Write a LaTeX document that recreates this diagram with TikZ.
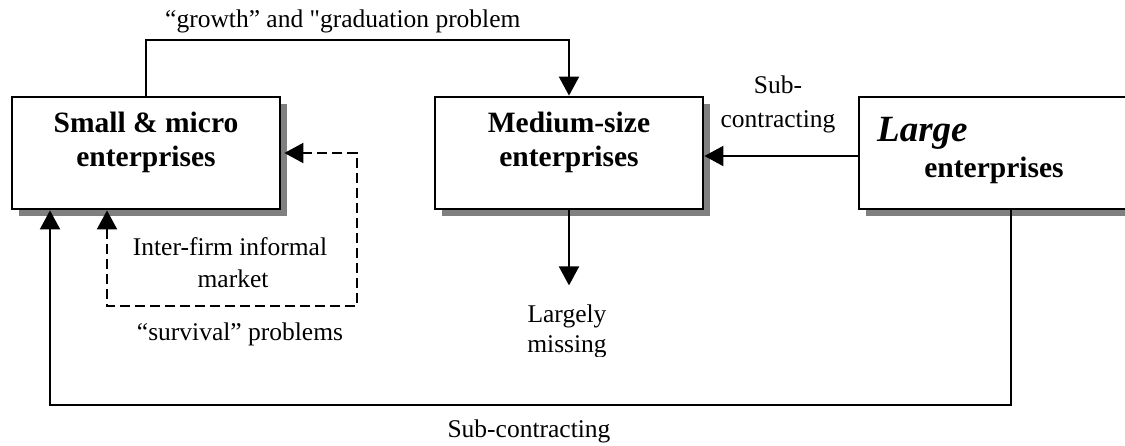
\documentclass[tikz,border=0pt]{standalone}
\usepackage{fontspec}
\setmainfont{Liberation Serif}[Ligatures=TeXOff]
\usetikzlibrary{arrows.meta,shadows,calc}
\begin{document}
\begin{tikzpicture}[x=1pt,y=-1pt,
  box/.style={draw=black, line width=2.8pt, fill=white, minimum width=268pt, minimum height=112pt, inner sep=0pt,
    general shadow={fill=gray, shadow xshift=6.5pt, shadow yshift=-6.5pt}},
  conn/.style={line width=2pt, -{Triangle[length=19pt,width=20pt]}},
  dconn/.style={line width=2pt, dash pattern=on 10pt off 5pt, {Triangle[length=19pt,width=20pt]}-{Triangle[length=19pt,width=20pt]}},
  lab/.style={font=\fontsize{25.5}{31}\selectfont, inner sep=0pt, anchor=base},
  btxt/.style={font=\fontsize{29.5}{35}\selectfont\bfseries, inner sep=0pt, anchor=base}]
\useasboundingbox (0,0) rectangle (1125,445);

% boxes
\node[box] (small) at (146,153) {};
\node[box] (medium) at (569,153) {};
\node[box] (large) at (993,153) {};

% box texts
\node[btxt] (smallA) at (146,132) {Small \& micro};
\node[btxt] (smallB) at (146,166) {enterprises};
\node[btxt] (mediumA) at (569,132) {Medium-size};
\node[btxt] (mediumB) at (569,166) {enterprises};
\node[inner sep=0pt, anchor=base west, font=\fontsize{37}{40}\selectfont\bfseries\itshape] (largeA) at (877,141) {Large};
\node[btxt] (largeB) at (994,177) {enterprises};

% labels
\node[lab, anchor=base west] (growth) at (165,27) {“growth” and "graduation problem};
\node[lab] (subA) at (778,93) {Sub-};
\node[lab] (subB) at (778,127) {contracting};
\node[lab] (interA) at (230,255) {Inter-firm informal};
\node[lab] (interB) at (233,287) {market};
\node[lab] (survival) at (240,340) {“survival” problems};
\begin{scope}
\clip (0,0) rectangle (1125,356);
\node[lab] (largelyA) at (567,322) {Largely};
\node[lab] (largelyB) at (567,352) {missing};
\end{scope}
\node[lab] (subbottom) at (529,437) {Sub-contracting};

% connectors
\draw[conn] (small.north) -- ++(0,-56) -| (medium.north);
\draw[conn] (large.west |- 0,156) -- (medium.east |- 0,156);
\coordinate (lowright) at ([xshift=18pt]large.south |- 0,405);
\draw[conn] ([xshift=18pt]large.south) -- (lowright) -| ([xshift=-96pt]small.south);
\coordinate (dashcorner) at (357,306);
\draw[dconn] ([xshift=-39pt]small.south) |- (dashcorner) |- ([xshift=3pt]small.east);
\draw[conn] (medium.south) -- ++(0,75);
\end{tikzpicture}
\end{document}
